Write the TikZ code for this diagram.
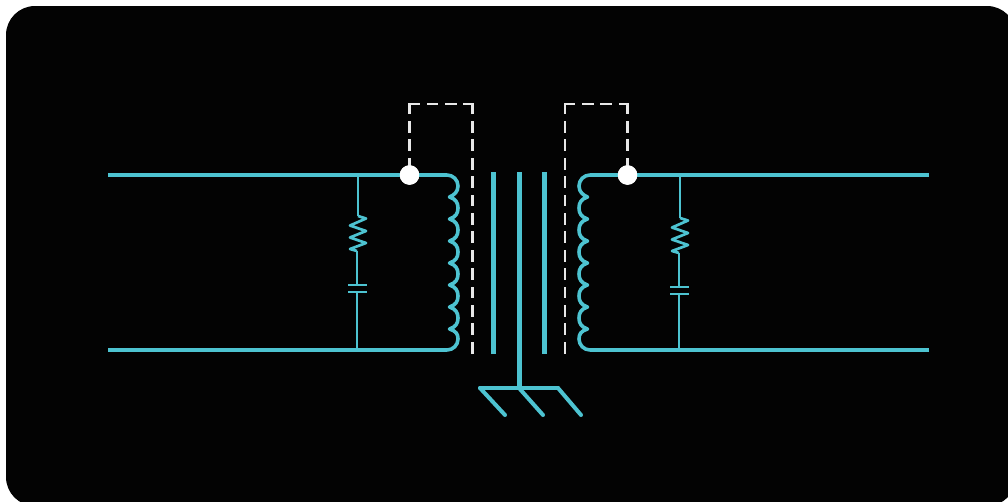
\documentclass[tikz,border=0pt]{standalone}
\definecolor{wirecol}{HTML}{4DC3D1}
\definecolor{dashcol}{HTML}{E8E8E8}
\definecolor{cardcol}{HTML}{030303}
\tikzset{
  mainwire/.style={draw=wirecol,line width=4pt,line join=round},
  thinwire/.style={draw=wirecol,line width=2.3pt,line join=round},
  zigwire/.style={draw=wirecol,line width=2.7pt,line join=round},
  coilwire/.style={draw=wirecol,line width=3.6pt,line join=round,line cap=round},
  corewire/.style={draw=wirecol,line width=5pt},
  gndwire/.style={draw=wirecol,line width=4pt,line cap=round},
  dashwire/.style={draw=dashcol,line width=2.7pt,line cap=rect,dash pattern=on 9pt off 9.4pt},
  dot/.style={circle,fill=white,inner sep=0pt,minimum size=19.5pt}
}
\begin{document}
\begin{tikzpicture}[x=1pt,y=-1pt]
\useasboundingbox (0,0) rectangle (1008,501);
\fill[white] (0,0) rectangle (1008,501);
\fill[cardcol,rounded corners=29pt] (6,6) rectangle (1016,506);
\coordinate (la) at (108,175); \coordinate (lb) at (108,350);
\coordinate (ra) at (929,175); \coordinate (rb) at (929,350);
\coordinate (lda) at (447,175); \coordinate (ldb) at (447,350);
\coordinate (rda) at (590,175); \coordinate (rdb) at (590,350);
% dashed
\node[dot] (dl) at (409.5,175) {};
\node[dot] (dr) at (627.5,175) {};
\coordinate (c1) at (409.5,104); \coordinate (c2) at (472.5,104); \coordinate (e1) at (472.5,354);
\coordinate (c3) at (565,104); \coordinate (c4) at (627.5,104); \coordinate (e2) at (565,354);
\draw[dashwire] (c1) -- (dl.center);
\draw[dashwire] (c1) -- (c2);
\draw[dashwire] (c2) -- (e1);
\draw[dashwire] (c3) -- (c4);
\draw[dashwire] (c3) -- (e2);
\draw[dashwire] (c4) -- (dr.center);
% mains
\draw[mainwire] (la) -- (dl) (dl) -- (lda);
\draw[mainwire] (lb) -- (ldb);
\draw[mainwire] (ra) -- (dr) (dr) -- (rda);
\draw[mainwire] (rb) -- (rdb);
\node[dot] at (dl) {};
\node[dot] at (dr) {};
% coils
\draw[coilwire] (lda) arc[start angle=-90,end angle=0,radius=11] .. controls (458,192) and (454,195) .. (449.5,197)
 \foreach \y in {197,219,241,263,285,307} { .. controls (456,\y+2) and (458,\y+6) .. (458,\y+11) .. controls (458,\y+16) and (456,\y+20) .. (449.5,\y+22) }
 .. controls (456,331) and (458,334) .. (458,339) arc[start angle=0,end angle=90,radius=11];
\draw[coilwire] (rda) arc[start angle=-90,end angle=-180,radius=11] .. controls (579,192) and (583,195) .. (587.5,197)
 \foreach \y in {197,219,241,263,285,307} { .. controls (581,\y+2) and (579,\y+6) .. (579,\y+11) .. controls (579,\y+16) and (581,\y+20) .. (587.5,\y+22) }
 .. controls (581,331) and (579,334) .. (579,339) arc[start angle=180,end angle=90,radius=11];
% core
\draw[corewire] (493,172) -- (493,354);
\draw[corewire] (519,172) -- (519,388);
\draw[corewire] (544,172) -- (544,354);
% ground
\coordinate (g1) at (480,388); \coordinate (g2) at (519,388); \coordinate (g3) at (558,388);
\draw[gndwire] (g1) -- (g3);
\draw[gndwire] (g1) -- (505,415);
\draw[gndwire] (g2) -- (543,415);
\draw[gndwire] (g3) -- (581,415);
% RC left
\draw[thinwire] (358,175) -- (358,216);
\draw[zigwire] (358,216) -- (366,218.5) -- (350,225.5) -- (366,231) -- (350,237.5) -- (366,243) -- (350,249) -- (357,251);
\draw[thinwire] (357,251) -- (357,285);
\draw[thinwire] (348,285) -- (367,285) (348,292) -- (367,292);
\draw[thinwire] (357,292) -- (357,350);
% RC right
\draw[thinwire] (680,175) -- (680,218);
\draw[zigwire] (680,218) -- (688,220.5) -- (672,227.5) -- (688,233) -- (672,239.5) -- (688,245) -- (672,251) -- (679,253);
\draw[thinwire] (679,253) -- (679,287);
\draw[thinwire] (670,287) -- (689,287) (670,294) -- (689,294);
\draw[thinwire] (679,294) -- (679,350);
\end{tikzpicture}
\end{document}
